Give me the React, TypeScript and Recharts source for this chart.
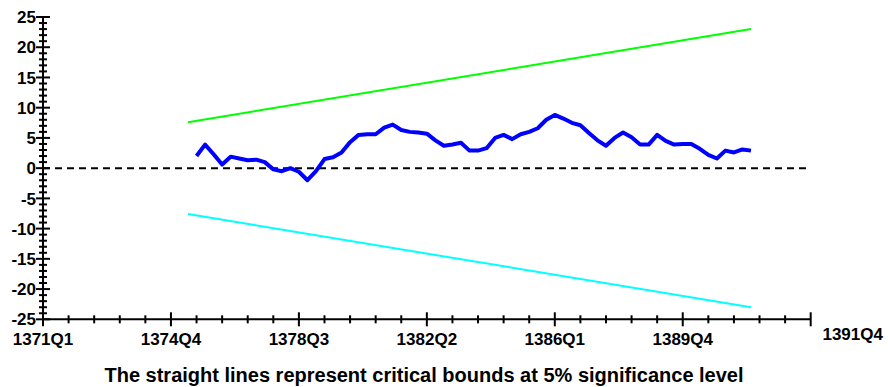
import { LineChart, Line, XAxis, YAxis, ReferenceLine } from 'recharts'

// quarter index 0 = 1371Q1
const majorTickPos = [0, 15, 30, 45, 60, 75]
const majorTickLabels = ['1371Q1', '1374Q4', '1378Q3', '1382Q2', '1386Q1', '1389Q4']
const axisEndPos = 90
const axisEndLabel = '1391Q4'

const cusumStart = 18
const cusum = [
  2.0, 3.9, 2.3, 0.6, 1.9, 1.6, 1.3, 1.4, 1.0, -0.2,
  -0.5, 0.0, -0.6, -2.0, -0.5, 1.5, 1.8, 2.6, 4.3, 5.5,
  5.6, 5.6, 6.7, 7.2, 6.3, 6.0, 5.9, 5.7, 4.6, 3.7,
  3.9, 4.2, 2.9, 2.9, 3.3, 5.0, 5.5, 4.8, 5.6, 6.0,
  6.6, 8.0, 8.8, 8.2, 7.5, 7.1, 5.8, 4.6, 3.7, 5.0,
  5.9, 5.1, 3.9, 3.9, 5.5, 4.5, 3.9, 4.0, 4.0, 3.2,
  2.2, 1.6, 2.9, 2.6, 3.1, 2.9,
]

const boundPos = [17, 83]
const upperBound = [7.6, 23.0]
const lowerBound = [-7.6, -23.0]

const rows: { t: number; cusum?: number; upper?: number; lower?: number }[] = []
boundPos.forEach((t, i) => rows.push({ t, upper: upperBound[i], lower: lowerBound[i] }))
cusum.forEach((v, i) => {
  const t = cusumStart + i
  const row = rows.find((r) => r.t === t)
  if (row) row.cusum = v
  else rows.push({ t, cusum: v })
})
rows.sort((a, b) => a.t - b.t)

const xTicks: number[] = []
for (let t = 0; t <= axisEndPos; t += 3) xTicks.push(t)
const yTicks: number[] = []
for (let v = -25; v <= 25; v += 1) yTicks.push(v)

const font = '"Liberation Sans", Arial, sans-serif'

const XTick = (props: any) => {
  const { x, y, payload } = props
  const v = payload.value
  const idx = majorTickPos.indexOf(v)
  const major = idx >= 0 || v === axisEndPos
  const len = major ? 7 : 4
  return (
    <g>
      <line x1={x} x2={x} y1={y - len} y2={y + len} stroke="#000" strokeWidth={2} />
      {idx >= 0 && (
        <text x={x} y={y + 26} textAnchor="middle" fontFamily={font} fontWeight="bold" fontSize={17} fill="#000">
          {majorTickLabels[idx]}
        </text>
      )}
      {v === axisEndPos && (
        <text x={x + 42} y={y + 21} textAnchor="middle" fontFamily={font} fontWeight="bold" fontSize={17} fill="#000">
          {axisEndLabel}
        </text>
      )}
    </g>
  )
}

const YTick = (props: any) => {
  const { x, y, payload } = props
  const v = payload.value
  const major = v % 5 === 0
  const len = major ? 7 : 4
  return (
    <g>
      <line x1={x - len} x2={x + len} y1={y} y2={y} stroke="#000" strokeWidth={2} />
      {major && (
        <text x={x - 7} y={y} dy="0.36em" textAnchor="end" fontFamily={font} fontWeight="bold" fontSize={17} fill="#000">
          {v}
        </text>
      )}
    </g>
  )
}

export default function App() {
  return (
    <div style={{ position: 'absolute', left: 0, top: 0, width: 888, height: 387, background: '#fff' }}>
      <LineChart width={888} height={387} data={rows} margin={{ top: 17, right: 77.3, left: 0, bottom: 27.7 }}>
        <XAxis
          dataKey="t"
          type="number"
          domain={[0, axisEndPos]}
          ticks={xTicks}
          interval={0}
          tick={<XTick />}
          tickLine={false}
          tickSize={0}
          tickMargin={0}
          height={40}
          axisLine={{ stroke: '#000', strokeWidth: 2 }}
          allowDataOverflow
        />
        <YAxis
          type="number"
          domain={[-25, 25]}
          ticks={yTicks}
          interval={0}
          tick={<YTick />}
          tickLine={false}
          tickSize={0}
          tickMargin={0}
          width={43}
          axisLine={{ stroke: '#000', strokeWidth: 2 }}
          allowDataOverflow
        />
        <ReferenceLine y={0} stroke="#000" strokeWidth={2} strokeDasharray="7 5" />
        <Line dataKey="upper" stroke="#00ff00" strokeWidth={2} dot={false} connectNulls isAnimationActive={false} />
        <Line dataKey="lower" stroke="#00ffff" strokeWidth={2} dot={false} connectNulls isAnimationActive={false} />
        <Line
          dataKey="cusum"
          stroke="#0000ff"
          strokeWidth={4}
          strokeLinejoin="round"
          dot={false}
          connectNulls
          isAnimationActive={false}
        />
      </LineChart>
      <div
        style={{
          position: 'absolute',
          left: 0,
          width: 848,
          top: 365,
          textAlign: 'center',
          fontFamily: font,
          fontWeight: 'bold',
          fontSize: 20,
          lineHeight: '20px',
          color: '#000',
        }}
      >
        The straight lines represent critical bounds at 5% significance level
      </div>
    </div>
  )
}
